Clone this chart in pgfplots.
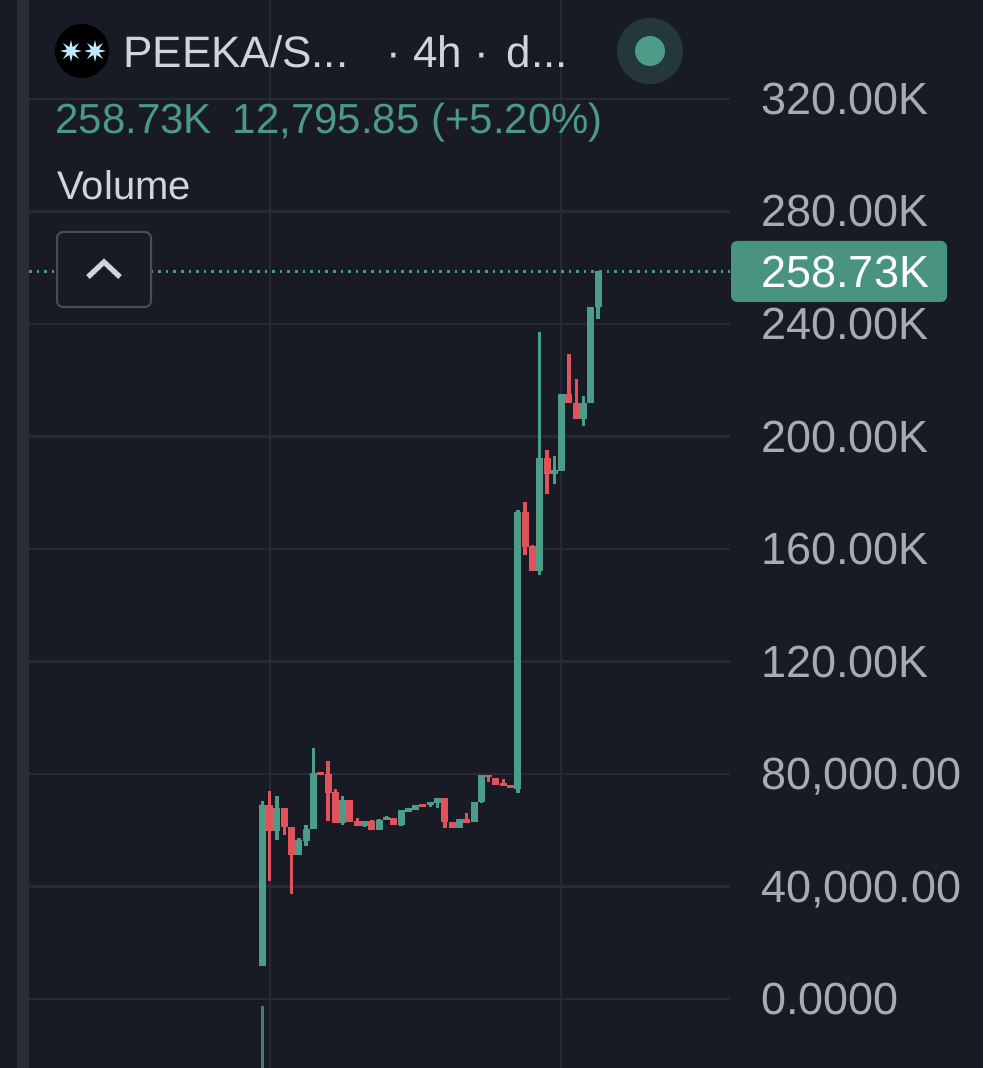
\documentclass[border=0pt]{standalone}
\usepackage{pgfplots}
\usepackage{pgfplotstable}
\usepackage{fontspec}
\setmainfont{Liberation Sans}
\pgfplotsset{compat=1.18}
\usetikzlibrary{shapes.geometric}
\definecolor{bg}{HTML}{181B26}
\definecolor{gridc}{HTML}{272A35}
\definecolor{strip}{HTML}{2A2D38}
\definecolor{up}{HTML}{4C9C88}
\definecolor{down}{HTML}{E0535A}
\definecolor{axt}{HTML}{A9ABB3}
\definecolor{leg}{HTML}{D1D4DC}
\definecolor{gtxt}{HTML}{4A9A84}
% i low bodylow bodyhigh high (thousands)
\pgfplotstableread{
i low bl bh high
0 11.7 11.7 69.0 70.4
2 56.5 59.7 67.9 72.2
5 51.2 51.2 56.5 57.2
6 54.4 56.2 60.4 61.9
7 60.4 60.4 80.4 89.2
11 61.9 62.6 70.8 72.2
14 61.2 61.5 63.3 63.3
16 60.1 60.1 63.6 64.0
17 63.5 63.6 64.7 65.1
19 61.5 61.9 67.2 67.2
20 66.5 66.5 67.9 67.9
21 67.2 67.2 69.0 69.0
23 68.3 69.0 70.0 70.0
24 67.9 69.7 71.5 71.5
27 60.8 60.8 64.0 64.0
29 62.9 62.9 70.0 70.0
30 69.7 70.0 79.6 79.6
35 73.2 74.7 173.2 173.9
38 150.8 152.2 192.4 237.2
40 183.1 186.7 188.1 193.1
41 187.7 187.7 215.1 215.1
44 203.7 206.2 211.9 214.4
45 211.9 211.9 246.0 246.0
46 241.8 246.0 258.73 258.73
}\upT
\pgfplotstableread{
i low bl bh high
1 42.1 59.7 69.0 74.1
3 58.3 61.2 67.9 67.9
4 37.3 51.2 61.2 61.2
8 79.6 79.6 80.7 80.7
9 63.3 73.2 80.0 84.6
10 62.6 62.6 73.6 74.7
12 62.9 62.9 70.8 70.8
13 61.5 61.5 63.3 64.4
15 60.1 60.1 63.3 63.6
18 61.9 61.9 64.4 64.4
22 68.3 68.3 69.3 69.3
25 60.8 62.9 71.5 71.5
26 60.8 60.8 62.9 62.9
28 62.6 62.6 64.0 66.1
31 77.2 78.9 79.6 79.6
32 76.1 76.1 78.6 78.6
33 75.7 75.7 76.8 78.2
34 75.0 75.0 76.1 76.1
36 157.9 160.7 173.2 176.7
37 152.2 152.2 161.1 161.4
39 179.6 186.7 192.4 195.2
42 211.9 211.9 215.1 229.3
43 206.2 206.2 211.9 220.4
}\downT
\pgfplotsset{
  cnd/.style n args={2}{draw=none, no markers, forget plot,
    error bars/.cd, y dir=plus, y explicit, error mark=none,
    error bar style={draw=#1, line width=#2}},
}
\begin{document}
\begin{tikzpicture}[x=0.5pt,y=-0.5pt]
\fill[bg] (0,0) rectangle (983,1068);
\fill[strip] (17,1068) -- (17,0) -- (29,0) -- (29,1068) -- cycle;
\begin{axis}[
  at={(14.5pt,-534pt)}, anchor=south west,
  scale only axis, width=350.5pt, height=534pt,
  xmin=-31.96, xmax=64.07, ymin=-24.53, ymax=355.2,
  axis line style={draw=none},
  major tick length=0pt,
  xtick={1.05,40.92}, xticklabels={},
  ytick={0,40,80,120,160,200,240,280,320},
  yticklabels={0.0000,{40,000.00},{80,000.00},120.00K,160.00K,200.00K,240.00K,280.00K,320.00K},
  yticklabel pos=right,
  yticklabel style={anchor=west, xshift=15.3pt, yshift=-2pt, text=axt, text height=11.5pt, text depth=0pt,
    font=\fontsize{22.5}{26}\selectfont, inner xsep=0pt, inner ysep=0pt},
  grid=major,
  grid style={draw=gridc, line width=1.1pt},
]
\addplot[draw=none, no markers, forget plot, error bars/.cd, y dir=plus, y explicit, error mark=none,
  error bar style={draw=up!80!bg, line width=1.3pt}]
  coordinates {(0,-24.5) +- (0,22)};
\addplot[cnd={up}{1.7pt}] table[x=i,y=low,y error plus expr=\thisrow{high}-\thisrow{low}] {\upT};
\addplot[cnd={down}{1.7pt}] table[x=i,y=low,y error plus expr=\thisrow{high}-\thisrow{low}] {\downT};
\addplot[cnd={up}{3.5pt}] table[x=i,y=bl,y error plus expr=\thisrow{bh}-\thisrow{bl}] {\upT};
\addplot[cnd={down}{3.5pt}] table[x=i,y=bl,y error plus expr=\thisrow{bh}-\thisrow{bl}] {\downT};
\addplot[gtxt, line width=1.2pt, dash pattern=on 1.3pt off 2.5pt, forget plot] coordinates {(-31.96,258.73) (64.07,258.73)};
\end{axis}
% price tag
\fill[up!95!black, rounded corners=3pt] (731,241) -- (947,241) -- (947,302) -- (731,302) -- cycle;
\node[anchor=west, text=white, inner sep=0pt, font=\fontsize{22.5}{26}\selectfont] at (761,272) {258.73K};
% header
\fill[black] (82,51) circle [radius=27];
\node[star, star points=8, star point ratio=2.6, minimum size=11pt, inner sep=0pt, fill=cyan!25!white] at (71,51) {};
\node[star, star points=8, star point ratio=2.6, minimum size=11pt, inner sep=0pt, fill=cyan!25!white] at (95,51) {};
\node[anchor=base west, text=leg, inner sep=0pt, font=\fontsize{22}{26}\selectfont] at (123,68) {PEEKA/S...};
\node[anchor=base west, text=leg, inner sep=0pt, font=\fontsize{22}{26}\selectfont] at (386,68) {· 4h · \hspace{0.12em}d...};
\fill[up!22!bg] (650,51) circle [radius=33];
\fill[up] (650,51) circle [radius=15];
\node[anchor=base west, text=gtxt, inner sep=0pt, font=\fontsize{21}{25}\selectfont] at (55,134) {258.73K\hspace{0.5em}12,795.85 (+5.20\%)};
\node[anchor=base west, text=leg, inner sep=0pt, font=\fontsize{20}{24}\selectfont] at (57,200) {Volume};
% button
\draw[strip!85!white, line width=1pt, fill=bg, rounded corners=3pt] (57,232) rectangle (151,307);
\draw[leg, line width=2.6pt] (88,277) -- (104,262) -- (120,277);
\pgfresetboundingbox
\path[use as bounding box] (0,0) rectangle (983,1068);
\end{tikzpicture}
\end{document}
